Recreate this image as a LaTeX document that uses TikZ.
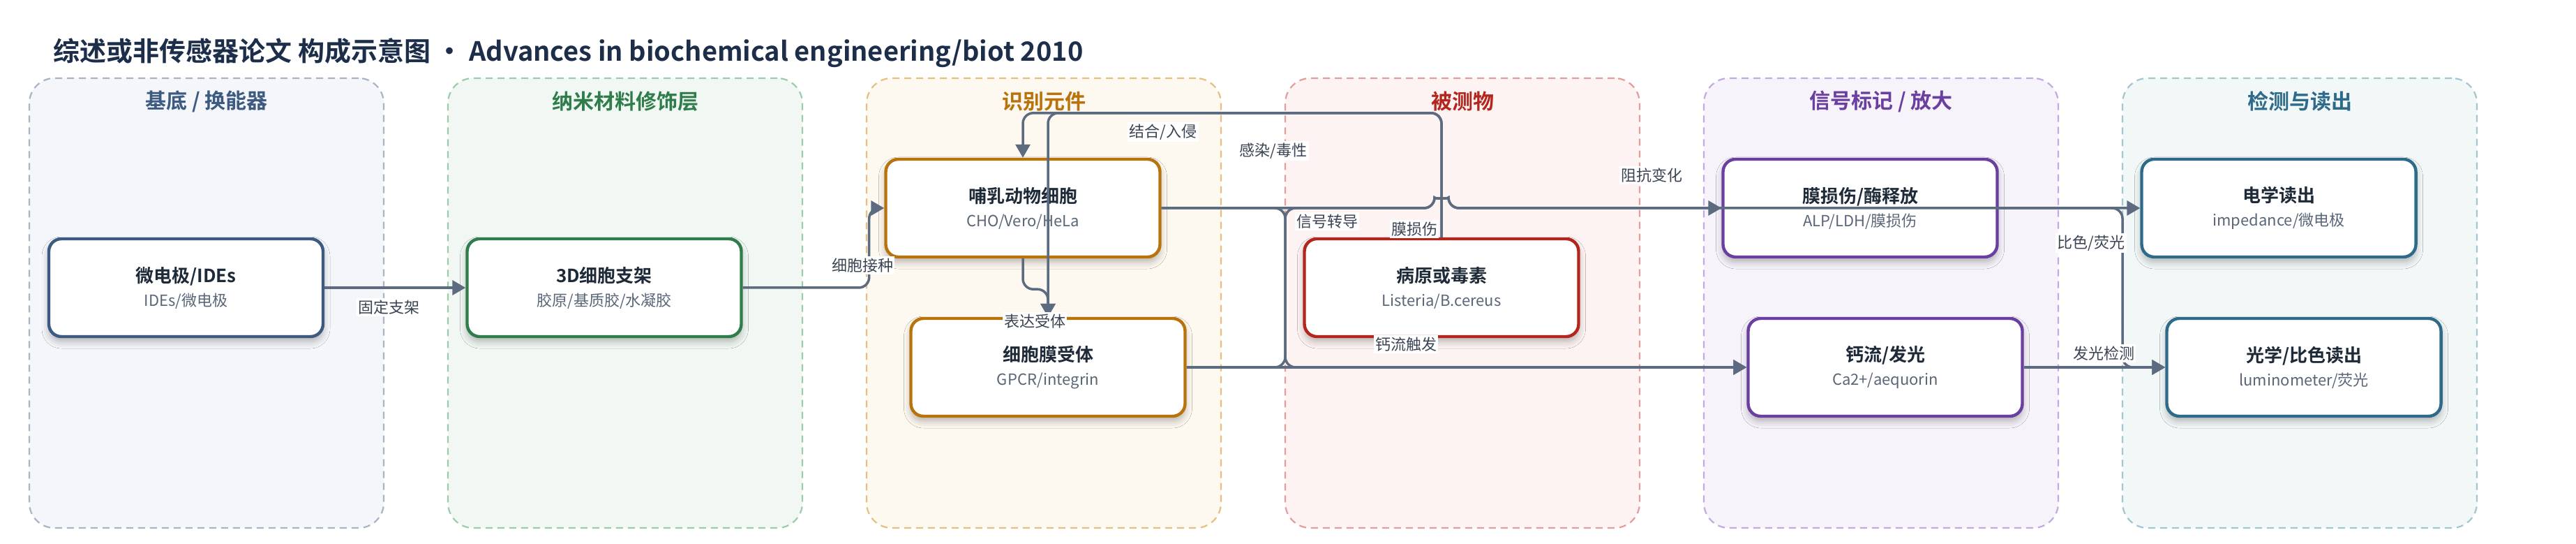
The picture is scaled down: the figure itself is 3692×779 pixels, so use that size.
\documentclass[tikz,border=0pt]{standalone}
\usepackage{fontspec}
\setmainfont{Noto Sans CJK SC}[BoldFont={Noto Sans CJK SC Bold}]
\usetikzlibrary{arrows.meta,shadows.blur,calc}
\definecolor{titlec}{HTML}{1C2E4A}
\definecolor{edgec}{HTML}{5C6B80}
\definecolor{labc}{HTML}{3A4452}
\definecolor{ntitle}{HTML}{1E2A38}
\definecolor{nsubc}{HTML}{5A6678}
\definecolor{pfA}{HTML}{F4F6FA}\definecolor{pbA}{HTML}{A8B5C9}\definecolor{cA}{HTML}{3D5A80}
\definecolor{pfB}{HTML}{F1F8F3}\definecolor{pbB}{HTML}{9DCCAB}\definecolor{cB}{HTML}{2E7D4B}
\definecolor{pfC}{HTML}{FDF8F0}\definecolor{pbC}{HTML}{E6C07F}\definecolor{cC}{HTML}{B8730C}
\definecolor{pfD}{HTML}{FDF3F2}\definecolor{pbD}{HTML}{E59C9A}\definecolor{cD}{HTML}{B3261E}
\definecolor{pfE}{HTML}{F6F3FA}\definecolor{pbE}{HTML}{C6A9E0}\definecolor{cE}{HTML}{6B3FA0}
\definecolor{pfF}{HTML}{F2F7F8}\definecolor{pbF}{HTML}{A5C5D0}\definecolor{cF}{HTML}{2E6B8A}
\newcommand\mytitle[1]{{\fontsize{13pt}{17pt}\selectfont\bfseries\color{ntitle}#1}}
\newcommand\mysub[1]{{\color{nsubc}#1}}
\begin{document}
\begin{tikzpicture}[x=0.5pt,y=-0.5pt,
  panel/.style={rectangle,rounded corners=18pt,dashed,dash pattern=on 5pt off 3.5pt,line width=1.1pt,minimum width=254pt,minimum height=322pt,inner sep=0pt},
  ptitle/.style={font=\fontsize{15pt}{18pt}\selectfont\bfseries},
  box/.style={rectangle,rounded corners=9pt,fill=white,line width=2.2pt,minimum width=196.5pt,minimum height=70pt,align=center,inner sep=2pt,
    font=\fontsize{11pt}{17pt}\selectfont,
    blur shadow={shadow xshift=0pt,shadow yshift=-3.5pt,shadow blur radius=5pt,shadow opacity=28}},
  edge/.style={draw=edgec,line width=1.75pt,rounded corners=7.5pt,-{Triangle[length=9.5pt,width=10.5pt]}},
  elabel/.style={fill=white,inner sep=1.2pt,text=labc,font=\fontsize{11pt}{13pt}\selectfont}]
\path[use as bounding box,fill=white] (0,0) rectangle (3692,779);
% title
\node[anchor=west,text=titlec,font=\fontsize{19pt}{22pt}\selectfont\bfseries,inner sep=0pt] (title) at (76,76)
  {综述或非传感器论文 构成示意图 · Advances in biochemical engineering/biot 2010};
% panels
\node[panel,fill=pfA,draw=pbA] (pA) at (296,434) {};
\node[panel,fill=pfB,draw=pbB] (pB) at (896,434) {};
\node[panel,fill=pfC,draw=pbC] (pC) at (1496,434) {};
\node[panel,fill=pfD,draw=pbD] (pD) at (2096,434) {};
\node[panel,fill=pfE,draw=pbE] (pE) at (2696,434) {};
\node[panel,fill=pfF,draw=pbF] (pF) at (3296,434) {};
\node[ptitle,text=cA] (tA) at (296,145) {基底 / 换能器};
\node[ptitle,text=cB] (tB) at (896,145) {纳米材料修饰层};
\node[ptitle,text=cC] (tC) at (1496,145) {识别元件};
\node[ptitle,text=cD] (tD) at (2096,145) {被测物};
\node[ptitle,text=cE] (tE) at (2696,145) {信号标记 / 放大};
\node[ptitle,text=cF] (tF) at (3296,145) {检测与读出};
% nodes
\node[box,draw=cA] (n1) at (266.5,412) {\mytitle{微电极/IDEs}\\\mysub{IDEs/微电极}};
\node[box,draw=cB] (n2) at (866,412) {\mytitle{3D细胞支架}\\\mysub{胶原/基质胶/水凝胶}};
\node[box,draw=cC] (n3) at (1466,298) {\mytitle{哺乳动物细胞}\\\mysub{CHO/Vero/HeLa}};
\node[box,draw=cC] (n4) at (1502,526) {\mytitle{细胞膜受体}\\\mysub{GPCR/integrin}};
\node[box,draw=cD] (n5) at (2066,412) {\mytitle{病原或毒素}\\\mysub{Listeria/B.cereus}};
\node[box,draw=cE] (n6) at (2666,298) {\mytitle{膜损伤/酶释放}\\\mysub{ALP/LDH/膜损伤}};
\node[box,draw=cE] (n7) at (2702,526) {\mytitle{钙流/发光}\\\mysub{Ca2+/aequorin}};
\node[box,draw=cF] (n8) at (3266,298) {\mytitle{电学读出}\\\mysub{impedance/微电极}};
\node[box,draw=cF] (n9) at (3302,526) {\mytitle{光学/比色读出}\\\mysub{luminometer/荧光}};
% helper coordinates
\coordinate (hop) at (n5.north |- n3.east);
\coordinate (busA) at (1842,412);
\coordinate (busB) at (3042,412);
% connectors
\draw[edge] (n1.east) -- (n2.west);
\draw[edge] (n2.east) -- ++(181,0) |- (n3.west);
\draw[edge] (n3.south) -- ++(0,44) -| (n4.north);
\draw[edge] (n5.north) -- ++(0,-178) -| (n3.north);
\draw[edge] (n5.north) -- ++(0,-178) -| (n4.north);
\draw[edge] (n3.east) -- ([xshift=-5pt]hop) .. controls ([xshift=-5pt,yshift=6.7pt]hop) and ([xshift=5pt,yshift=6.7pt]hop) .. ([xshift=5pt]hop) -- (n8.west);
\draw[edge] (n4.east) -| (busA) |- ([xshift=-5pt]hop) .. controls ([xshift=-5pt,yshift=6.7pt]hop) and ([xshift=5pt,yshift=6.7pt]hop) .. ([xshift=5pt]hop) -- (n6.west);
\draw[edge] (n3.east) -| (busA) |- (n7.west);
\draw[edge] (n4.east) -- (n7.west);
\draw[edge] (n6.east) -| (busB) |- (n9.west);
\draw[edge] (n7.east) -- (n9.west);
% labels
\node[elabel] (l1) at (557,440) {固定支架};
\node[elabel] (l2) at (1236,380) {细胞接种};
\node[elabel] (l3) at (1483,460) {表达受体};
\node[elabel] (l4) at (1667,189) {结合/入侵};
\node[elabel] (l5) at (1825,216) {感染/毒性};
\node[elabel] (l6) at (1902,317) {信号转导};
\node[elabel] (l7) at (2027,328) {膜损伤};
\node[elabel] (l8) at (2015,493) {钙流触发};
\node[elabel] (l9) at (2367,251) {阻抗变化};
\node[elabel] (l10) at (2997,348) {比色/荧光};
\node[elabel] (l11) at (3015,506) {发光检测};
\end{tikzpicture}
\end{document}
